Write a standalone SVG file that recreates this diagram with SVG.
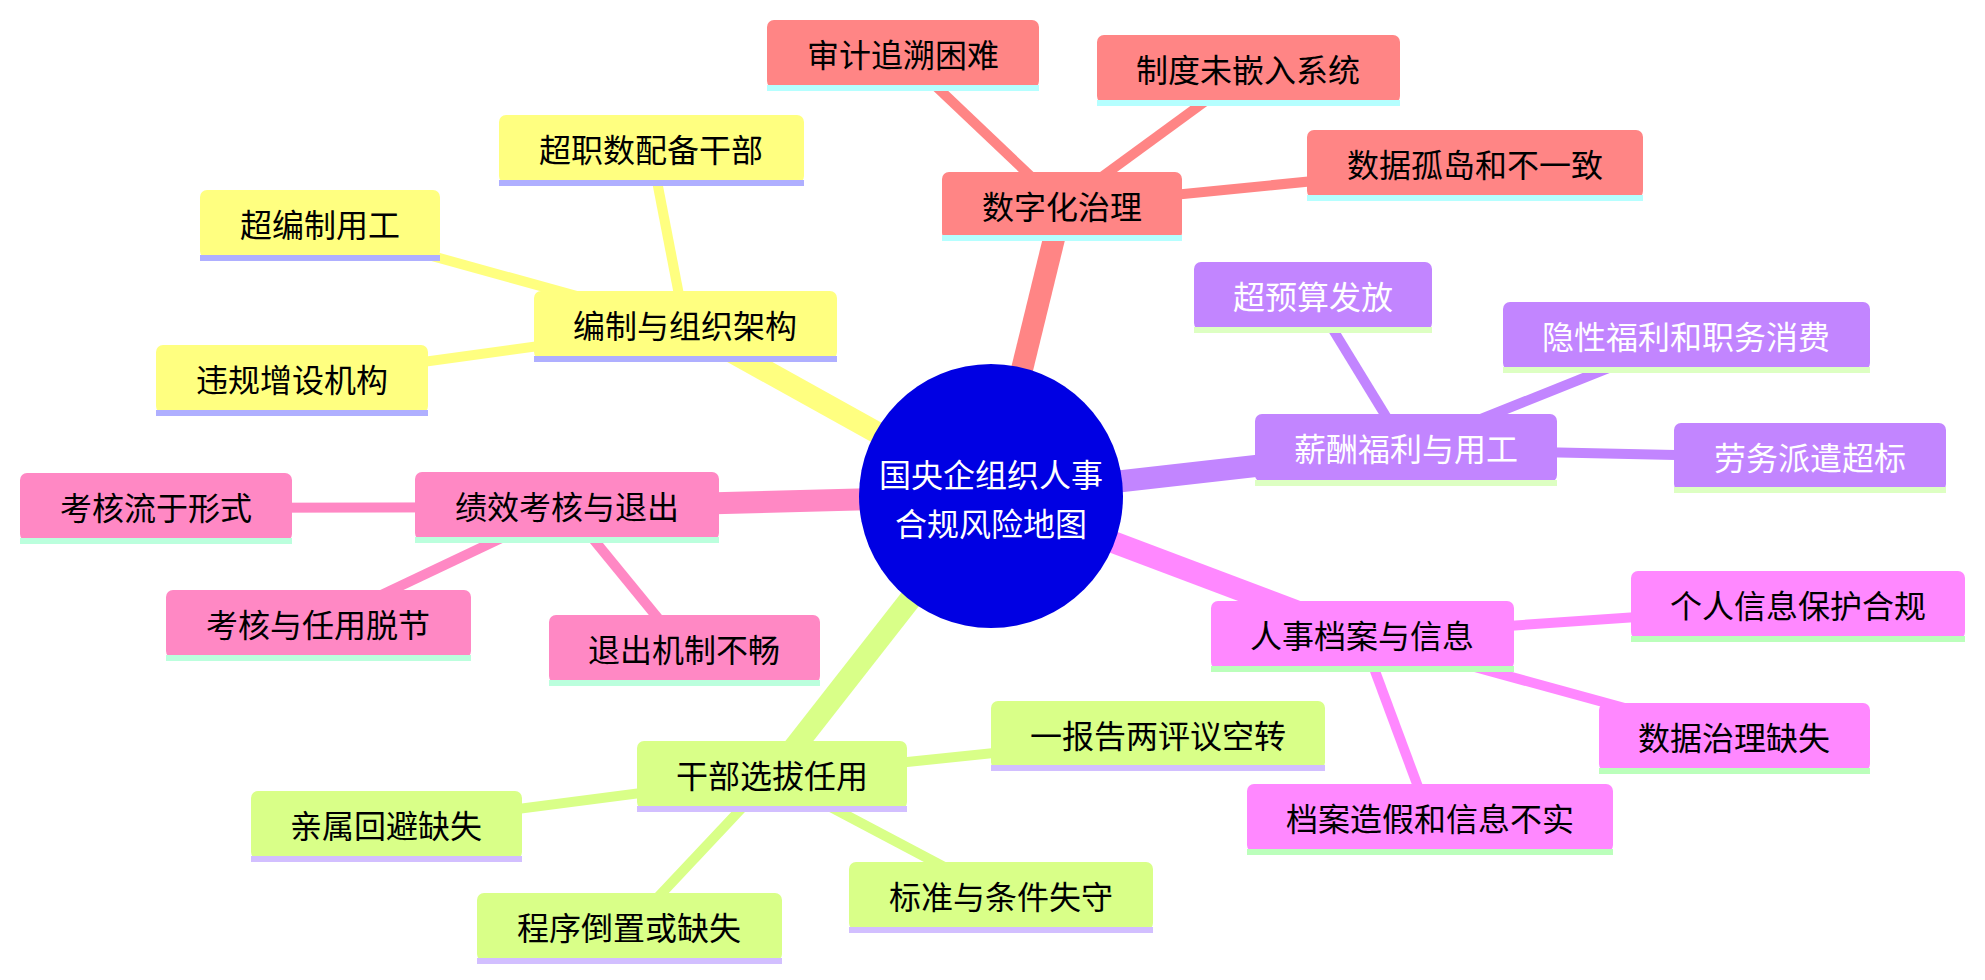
<svg xmlns="http://www.w3.org/2000/svg" width="1985" height="980" viewBox="0 0 1985 980">
<style>
text{font-family:"Noto Sans CJK SC","Noto Sans",sans-serif;font-size:32px;text-anchor:middle;dominant-baseline:central;fill:#000}
.main{stroke-width:22;stroke-linecap:butt;fill:none}
.sub{stroke-width:10;fill:none}
.red{fill:#FF8585}.redl{stroke:#FF8585}.redb{fill:#B5FFFF}
.yel{fill:#FFFF80}.yell{stroke:#FFFF80}.yelb{fill:#AFAFFF}
.pur{fill:#C285FF}.purl{stroke:#C285FF}.purb{fill:#DDFFC2}
.pnk{fill:#FF88C4}.pnkl{stroke:#FF88C4}.pnkb{fill:#BBFFDD}
.mag{fill:#FF88FF}.magl{stroke:#FF88FF}.magb{fill:#BBFFBB}
.grn{fill:#D9FF88}.grnl{stroke:#D9FF88}.grnb{fill:#D2BFFF}
.w{fill:#fff}
</style>
<g id="connectors">
<line class="main redl" x1="991" y1="496" x2="1062" y2="206"/>
<line class="main yell" x1="991" y1="496" x2="685" y2="326"/>
<line class="main purl" x1="991" y1="496" x2="1406" y2="449"/>
<line class="main pnkl" x1="991" y1="496" x2="567" y2="507"/>
<line class="main magl" x1="991" y1="496" x2="1362" y2="636"/>
<line class="main grnl" x1="991" y1="496" x2="772" y2="776"/>
<line class="sub redl" x1="1062" y1="206" x2="903" y2="55"/>
<line class="sub redl" x1="1062" y1="206" x2="1248" y2="70"/>
<line class="sub redl" x1="1062" y1="206" x2="1475" y2="165"/>
<line class="sub yell" x1="685" y1="326" x2="651" y2="150"/>
<line class="sub yell" x1="685" y1="326" x2="320" y2="225"/>
<line class="sub yell" x1="685" y1="326" x2="292" y2="380"/>
<line class="sub purl" x1="1406" y1="449" x2="1313" y2="297"/>
<line class="sub purl" x1="1406" y1="449" x2="1686" y2="337"/>
<line class="sub purl" x1="1406" y1="449" x2="1810" y2="458"/>
<line class="sub pnkl" x1="567" y1="507" x2="156" y2="508"/>
<line class="sub pnkl" x1="567" y1="507" x2="318" y2="625"/>
<line class="sub pnkl" x1="567" y1="507" x2="684" y2="650"/>
<line class="sub magl" x1="1362" y1="636" x2="1798" y2="606"/>
<line class="sub magl" x1="1362" y1="636" x2="1734" y2="738"/>
<line class="sub magl" x1="1362" y1="636" x2="1430" y2="819"/>
<line class="sub grnl" x1="772" y1="776" x2="1158" y2="736"/>
<line class="sub grnl" x1="772" y1="776" x2="386" y2="826"/>
<line class="sub grnl" x1="772" y1="776" x2="629" y2="928"/>
<line class="sub grnl" x1="772" y1="776" x2="1001" y2="897"/>
</g>
<g id="root">
<circle cx="991" cy="496" r="132" fill="#0000E3"/>
<text class="w" x="991" y="473">国央企组织人事</text>
<text class="w" x="991" y="522">合规风险地图</text>
</g>
<g id="n-digital"><rect class="red" x="942" y="172" width="240" height="68" rx="7"/><rect class="redb" x="942" y="235" width="240" height="6"/><text x="1062" y="205">数字化治理</text></g>
<g id="n-audit"><rect class="red" x="767" y="20" width="272" height="68" rx="7"/><rect class="redb" x="767" y="85" width="272" height="6"/><text x="903" y="53">审计追溯困难</text></g>
<g id="n-system"><rect class="red" x="1097" y="35" width="303" height="68" rx="7"/><rect class="redb" x="1097" y="100" width="303" height="6"/><text x="1248" y="68">制度未嵌入系统</text></g>
<g id="n-island"><rect class="red" x="1307" y="130" width="336" height="68" rx="7"/><rect class="redb" x="1307" y="195" width="336" height="6"/><text x="1475" y="163">数据孤岛和不一致</text></g>

<g id="n-org"><rect class="yel" x="534" y="291" width="303" height="68" rx="7"/><rect class="yelb" x="534" y="356" width="303" height="6"/><text x="685" y="324">编制与组织架构</text></g>
<g id="n-cadre"><rect class="yel" x="499" y="115" width="305" height="68" rx="7"/><rect class="yelb" x="499" y="180" width="305" height="6"/><text x="651" y="148">超职数配备干部</text></g>
<g id="n-overstaff"><rect class="yel" x="200" y="190" width="240" height="68" rx="7"/><rect class="yelb" x="200" y="255" width="240" height="6"/><text x="320" y="223">超编制用工</text></g>
<g id="n-agency"><rect class="yel" x="156" y="345" width="272" height="68" rx="7"/><rect class="yelb" x="156" y="410" width="272" height="6"/><text x="292" y="378">违规增设机构</text></g>

<g id="n-pay"><rect class="pur" x="1255" y="414" width="302" height="68" rx="7"/><rect class="purb" x="1255" y="480" width="302" height="6"/><text class="w" x="1406" y="447">薪酬福利与用工</text></g>
<g id="n-budget"><rect class="pur" x="1194" y="262" width="238" height="68" rx="7"/><rect class="purb" x="1194" y="327" width="238" height="6"/><text class="w" x="1313" y="295">超预算发放</text></g>
<g id="n-hidden"><rect class="pur" x="1503" y="302" width="367" height="68" rx="7"/><rect class="purb" x="1503" y="367" width="367" height="6"/><text class="w" x="1686" y="335">隐性福利和职务消费</text></g>
<g id="n-dispatch"><rect class="pur" x="1674" y="423" width="272" height="68" rx="7"/><rect class="purb" x="1674" y="487" width="272" height="6"/><text class="w" x="1810" y="456">劳务派遣超标</text></g>

<g id="n-perf"><rect class="pnk" x="415" y="472" width="304" height="68" rx="7"/><rect class="pnkb" x="415" y="537" width="304" height="6"/><text x="567" y="505">绩效考核与退出</text></g>
<g id="n-formal"><rect class="pnk" x="20" y="473" width="272" height="68" rx="7"/><rect class="pnkb" x="20" y="538" width="272" height="6"/><text x="156" y="506">考核流于形式</text></g>
<g id="n-decouple"><rect class="pnk" x="166" y="590" width="305" height="68" rx="7"/><rect class="pnkb" x="166" y="655" width="305" height="6"/><text x="318" y="623">考核与任用脱节</text></g>
<g id="n-exit"><rect class="pnk" x="549" y="615" width="271" height="68" rx="7"/><rect class="pnkb" x="549" y="680" width="271" height="6"/><text x="684" y="648">退出机制不畅</text></g>

<g id="n-archive"><rect class="mag" x="1211" y="601" width="303" height="68" rx="7"/><rect class="magb" x="1211" y="666" width="303" height="6"/><text x="1362" y="634">人事档案与信息</text></g>
<g id="n-privacy"><rect class="mag" x="1631" y="571" width="334" height="68" rx="7"/><rect class="magb" x="1631" y="636" width="334" height="6"/><text x="1798" y="604">个人信息保护合规</text></g>
<g id="n-datagov"><rect class="mag" x="1599" y="703" width="271" height="68" rx="7"/><rect class="magb" x="1599" y="768" width="271" height="6"/><text x="1734" y="736">数据治理缺失</text></g>
<g id="n-fake"><rect class="mag" x="1247" y="784" width="366" height="68" rx="7"/><rect class="magb" x="1247" y="849" width="366" height="6"/><text x="1430" y="817">档案造假和信息不实</text></g>

<g id="n-select"><rect class="grn" x="637" y="741" width="270" height="68" rx="7"/><rect class="grnb" x="637" y="806" width="270" height="6"/><text x="772" y="774">干部选拔任用</text></g>
<g id="n-report"><rect class="grn" x="991" y="701" width="334" height="68" rx="7"/><rect class="grnb" x="991" y="765" width="334" height="6"/><text x="1158" y="734">一报告两评议空转</text></g>
<g id="n-kin"><rect class="grn" x="251" y="791" width="271" height="68" rx="7"/><rect class="grnb" x="251" y="856" width="271" height="6"/><text x="386" y="824">亲属回避缺失</text></g>
<g id="n-proc"><rect class="grn" x="477" y="893" width="305" height="68" rx="7"/><rect class="grnb" x="477" y="958" width="305" height="6"/><text x="629" y="926">程序倒置或缺失</text></g>
<g id="n-standard"><rect class="grn" x="849" y="862" width="304" height="68" rx="7"/><rect class="grnb" x="849" y="927" width="304" height="6"/><text x="1001" y="895">标准与条件失守</text></g>
</svg>
